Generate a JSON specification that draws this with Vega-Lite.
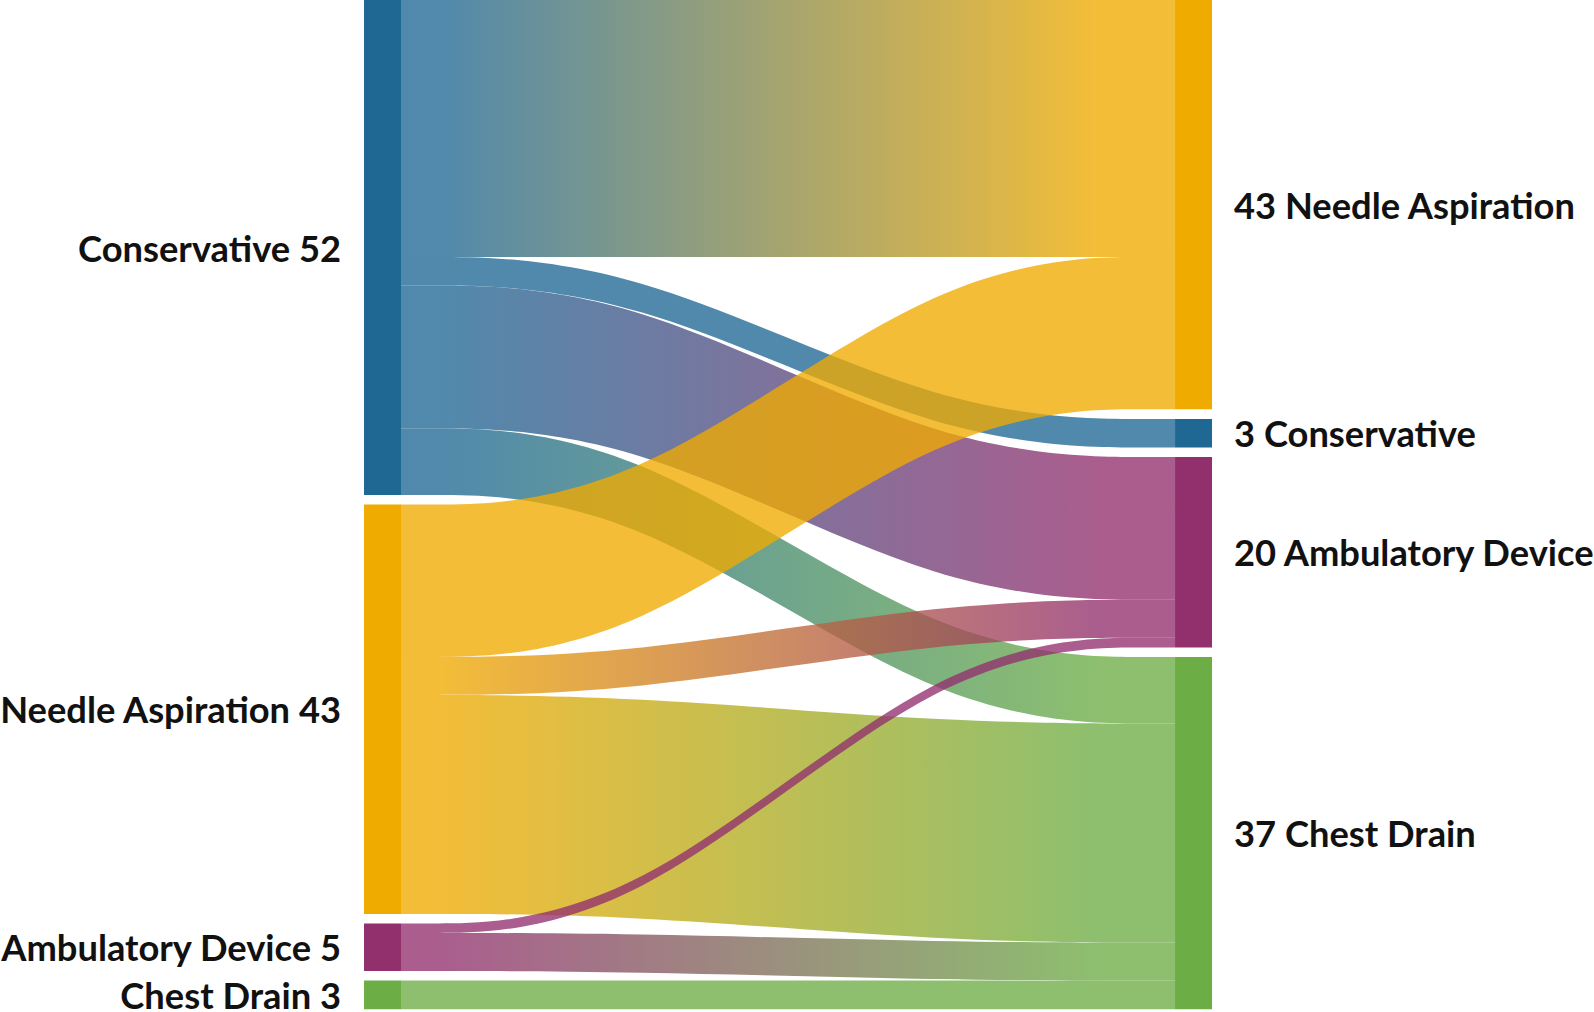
{
  "$schema": "https://vega.github.io/schema/vega-lite/v6.json",
  "width": 1594,
  "height": 1012,
  "autosize": {"type": "none"},
  "padding": 0,
  "background": "white",
  "config": {"view": {"stroke": null}},
  "datasets": {
    "links": [
      {"source": "Conservative", "target": "Needle Aspiration", "value": 27, "so": 0, "to": 0},
      {"source": "Conservative", "target": "Conservative", "value": 3, "so": 0, "to": 1},
      {"source": "Conservative", "target": "Ambulatory Device", "value": 15, "so": 0, "to": 2},
      {"source": "Conservative", "target": "Chest Drain", "value": 7, "so": 0, "to": 3},
      {"source": "Needle Aspiration", "target": "Needle Aspiration", "value": 16, "so": 1, "to": 0},
      {"source": "Needle Aspiration", "target": "Ambulatory Device", "value": 4, "so": 1, "to": 2},
      {"source": "Needle Aspiration", "target": "Chest Drain", "value": 23, "so": 1, "to": 3},
      {"source": "Ambulatory Device", "target": "Ambulatory Device", "value": 1, "so": 2, "to": 2},
      {"source": "Ambulatory Device", "target": "Chest Drain", "value": 4, "so": 2, "to": 3},
      {"source": "Chest Drain", "target": "Chest Drain", "value": 3, "so": 3, "to": 3}
    ]
  },
  "data": {"name": "links"},
  "layer": [
    {
      "transform": [
        {"window": [{"op": "sum", "field": "value", "as": "sc"}], "sort": [{"field": "so"}, {"field": "to"}], "frame": [null, 0]},
        {"window": [{"op": "sum", "field": "value", "as": "tc"}], "sort": [{"field": "to"}, {"field": "so"}], "frame": [null, 0]},
        {"calculate": "datum.sc + datum.so", "as": "sy1"},
        {"calculate": "datum.sy1 - datum.value", "as": "sy0"},
        {"calculate": "datum.tc + datum.to", "as": "ty1"},
        {"calculate": "datum.ty1 - datum.value", "as": "ty0"},
        {"calculate": "datum.so * 10 + datum.to", "as": "linkid"},
        {"fold": ["sy0", "sy1", "ty0", "ty1"], "as": ["k", "kv"]},
        {"calculate": "datum.k == 'sy0' ? 0 : (datum.k == 'sy1' ? 1 : (datum.k == 'ty0' ? 2 : 3))", "as": "step"},
        {"calculate": "datum.step == 0 ? 0 : (datum.step == 3 ? 1 : (datum.step == 1 ? 0.29 : 0.71))", "as": "px"},
        {"calculate": "datum.step < 2 ? datum.sy0 : datum.ty0", "as": "top"},
        {"calculate": "datum.step < 2 ? datum.sy1 : datum.ty1", "as": "bottom"}
      ],
      "mark": {"type": "area", "interpolate": "basis", "fillOpacity": 0.78},
      "encoding": {
        "x": {"field": "px", "type": "quantitative", "scale": {"domain": [-0.5181, 1.5413], "nice": false, "zero": false}, "axis": null},
        "y": {"field": "top", "type": "quantitative", "scale": {"domain": [0, 106.3], "reverse": true, "nice": false, "zero": false}, "axis": null},
        "y2": {"field": "bottom"},
        "detail": {"field": "linkid", "type": "nominal"},
        "color": {
          "condition": [
            {"test": "datum.source === 'Conservative' && datum.target === 'Needle Aspiration'", "value": {"gradient": "linear", "x1": 0, "y1": 0, "x2": 1, "y2": 0, "stops": [{"offset": 0, "color": "#1F6894"}, {"offset": 0.05, "color": "#1F6894"}, {"offset": 0.9, "color": "#F0AB00"}, {"offset": 1, "color": "#F0AB00"}]}},
            {"test": "datum.source === 'Conservative' && datum.target === 'Conservative'", "value": "#1F6894"},
            {"test": "datum.source === 'Conservative' && datum.target === 'Ambulatory Device'", "value": {"gradient": "linear", "x1": 0, "y1": 0, "x2": 1, "y2": 0, "stops": [{"offset": 0, "color": "#1F6894"}, {"offset": 0.05, "color": "#1F6894"}, {"offset": 0.9, "color": "#92306E"}, {"offset": 1, "color": "#92306E"}]}},
            {"test": "datum.source === 'Conservative' && datum.target === 'Chest Drain'", "value": {"gradient": "linear", "x1": 0, "y1": 0, "x2": 1, "y2": 0, "stops": [{"offset": 0, "color": "#1F6894"}, {"offset": 0.05, "color": "#1F6894"}, {"offset": 0.9, "color": "#6DAD46"}, {"offset": 1, "color": "#6DAD46"}]}},
            {"test": "datum.source === 'Needle Aspiration' && datum.target === 'Needle Aspiration'", "value": "#F0AB00"},
            {"test": "datum.source === 'Needle Aspiration' && datum.target === 'Ambulatory Device'", "value": {"gradient": "linear", "x1": 0, "y1": 0, "x2": 1, "y2": 0, "stops": [{"offset": 0, "color": "#F0AB00"}, {"offset": 0.05, "color": "#F0AB00"}, {"offset": 0.9, "color": "#92306E"}, {"offset": 1, "color": "#92306E"}]}},
            {"test": "datum.source === 'Needle Aspiration' && datum.target === 'Chest Drain'", "value": {"gradient": "linear", "x1": 0, "y1": 0, "x2": 1, "y2": 0, "stops": [{"offset": 0, "color": "#F0AB00"}, {"offset": 0.05, "color": "#F0AB00"}, {"offset": 0.9, "color": "#6DAD46"}, {"offset": 1, "color": "#6DAD46"}]}},
            {"test": "datum.source === 'Ambulatory Device' && datum.target === 'Ambulatory Device'", "value": "#92306E"},
            {"test": "datum.source === 'Ambulatory Device' && datum.target === 'Chest Drain'", "value": {"gradient": "linear", "x1": 0, "y1": 0, "x2": 1, "y2": 0, "stops": [{"offset": 0, "color": "#92306E"}, {"offset": 0.05, "color": "#92306E"}, {"offset": 0.9, "color": "#6DAD46"}, {"offset": 1, "color": "#6DAD46"}]}}
          ],
          "value": "#6DAD46"
        }
      }
    },
    {
      "transform": [
        {"aggregate": [{"op": "sum", "field": "value", "as": "total"}], "groupby": ["source", "so"]},
        {"window": [{"op": "sum", "field": "total", "as": "cum"}], "sort": [{"field": "so"}], "frame": [null, 0]},
        {"calculate": "datum.cum + datum.so", "as": "nb"},
        {"calculate": "datum.nb - datum.total", "as": "nt"}
      ],
      "mark": {"type": "rect"},
      "encoding": {
        "x": {"datum": -0.0478, "type": "quantitative"},
        "x2": {"datum": 0},
        "y": {"field": "nt", "type": "quantitative"},
        "y2": {"field": "nb"},
        "color": {"field": "source", "type": "nominal", "scale": {"domain": ["Conservative", "Needle Aspiration", "Ambulatory Device", "Chest Drain"], "range": ["#1F6894", "#F0AB00", "#92306E", "#6DAD46"]}, "legend": null}
      }
    },
    {
      "transform": [
        {"aggregate": [{"op": "sum", "field": "value", "as": "total"}], "groupby": ["target", "to"]},
        {"window": [{"op": "sum", "field": "total", "as": "cum"}], "sort": [{"field": "to"}], "frame": [null, 0]},
        {"calculate": "datum.cum + datum.to", "as": "nb"},
        {"calculate": "datum.nb - datum.total", "as": "nt"}
      ],
      "mark": {"type": "rect"},
      "encoding": {
        "x": {"datum": 1, "type": "quantitative"},
        "x2": {"datum": 1.0478},
        "y": {"field": "nt", "type": "quantitative"},
        "y2": {"field": "nb"},
        "color": {"field": "target", "type": "nominal", "scale": {"domain": ["Conservative", "Needle Aspiration", "Ambulatory Device", "Chest Drain"], "range": ["#1F6894", "#F0AB00", "#92306E", "#6DAD46"]}, "legend": null}
      }
    },
    {
      "transform": [
        {"aggregate": [{"op": "sum", "field": "value", "as": "total"}], "groupby": ["source", "so"]},
        {"window": [{"op": "sum", "field": "total", "as": "cum"}], "sort": [{"field": "so"}], "frame": [null, 0]},
        {"calculate": "datum.cum + datum.so - datum.total / 2", "as": "mid"},
        {"calculate": "datum.source + ' ' + datum.total", "as": "label"}
      ],
      "mark": {"type": "text", "align": "right", "baseline": "middle", "dx": -23, "dy": 3, "font": "Lato", "fontWeight": "bold", "fontSize": 36.3, "color": "#111111"},
      "encoding": {
        "x": {"datum": -0.0478, "type": "quantitative"},
        "y": {"field": "mid", "type": "quantitative"},
        "text": {"field": "label"}
      }
    },
    {
      "transform": [
        {"aggregate": [{"op": "sum", "field": "value", "as": "total"}], "groupby": ["target", "to"]},
        {"window": [{"op": "sum", "field": "total", "as": "cum"}], "sort": [{"field": "to"}], "frame": [null, 0]},
        {"calculate": "datum.cum + datum.to - datum.total / 2", "as": "mid"},
        {"calculate": "datum.total + ' ' + datum.target", "as": "label"}
      ],
      "mark": {"type": "text", "align": "left", "baseline": "middle", "dx": 22, "dy": 3, "font": "Lato", "fontWeight": "bold", "fontSize": 36.3, "color": "#111111"},
      "encoding": {
        "x": {"datum": 1.0478, "type": "quantitative"},
        "y": {"field": "mid", "type": "quantitative"},
        "text": {"field": "label"}
      }
    }
  ]
}
